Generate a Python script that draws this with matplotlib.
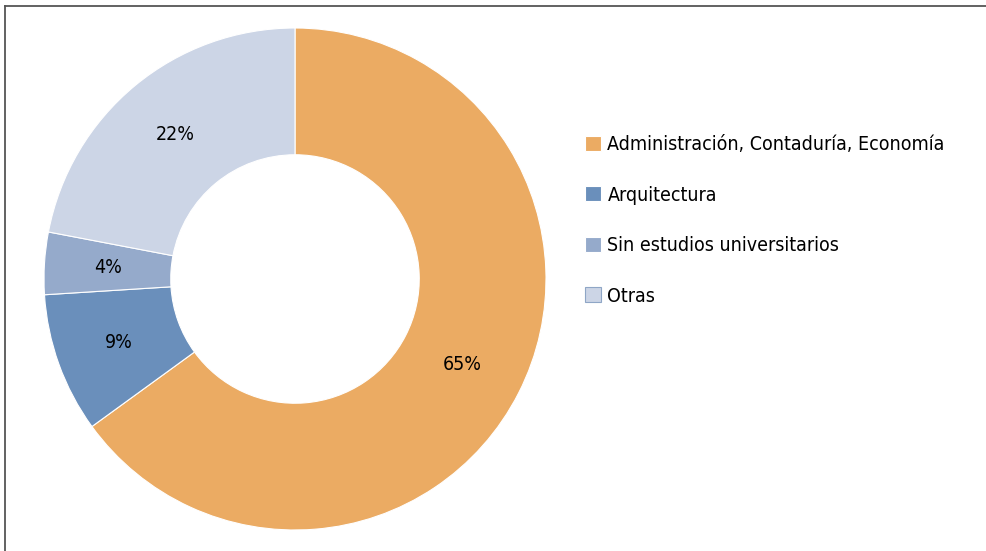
import matplotlib.pyplot as plt
from matplotlib.lines import Line2D

# Datos
categorias = ['Administración, Contaduría, Economía', 'Arquitectura',
              'Sin estudios universitarios', 'Otras']
valores = [65, 9, 4, 22]
colores = ['#EBAB63', '#6A8FBB', '#95AACB', '#CCD5E6']

plt.rcParams['font.family'] = ['DejaVu Sans']
plt.rcParams['font.stretch'] = 'condensed'

W, H = 987, 551
fig = plt.figure(figsize=(W / 100, H / 100), dpi=100)

# centro (295, 279) px, radio 251 px
cx, cy, r = 295, 279, 251
ax = fig.add_axes([(cx - r) / W, (H - cy - r) / H, 2 * r / W, 2 * r / H])

wedges, textos = ax.pie(valores, colors=colores, startangle=90, counterclock=False,
                        radius=1, wedgeprops=dict(width=0.505, edgecolor='white', linewidth=0.8),
                        labels=[f'{v}%' for v in valores], labeldistance=0.748)
for t in textos:
    t.set_ha('center')
    t.set_va('center')
    t.set_fontsize(14)
    t.set_color('black')
ax.set_xlim(-1, 1)
ax.set_ylim(-1, 1)
ax.set_aspect('equal')

leg = fig.legend(wedges, categorias, loc='upper left', bbox_to_anchor=(585 / W, 1 - 135 / H),
                 frameon=False, fontsize=14, handlelength=0.8, handleheight=0.8,
                 handletextpad=0.35, labelspacing=1.62, borderpad=0, borderaxespad=0)
leg.get_patches()[3].set_edgecolor('#8FA6C6')
leg.get_patches()[3].set_linewidth(0.8)

# marco (solo arriba e izquierda visibles)
fig.add_artist(Line2D([5.5 / W, 1], [1 - 5.5 / H, 1 - 5.5 / H], transform=fig.transFigure,
                      color='#555555', linewidth=1.3))
fig.add_artist(Line2D([5.5 / W, 5.5 / W], [0, 1 - 5.5 / H], transform=fig.transFigure,
                      color='#555555', linewidth=1.3))

fig.savefig('out.png', dpi=100)
